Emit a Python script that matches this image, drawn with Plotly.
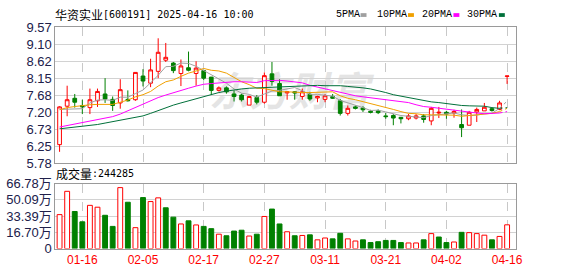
import plotly.graph_objects as go

# ---------------- data ----------------
dates = ["01-13", "01-14", "01-15", "01-16", "01-17", "01-20", "01-21", "01-22", "01-23", "01-24",
         "01-27", "02-05", "02-06", "02-07", "02-10", "02-11", "02-12", "02-13", "02-14", "02-17",
         "02-18", "02-19", "02-20", "02-21", "02-24", "02-25", "02-26", "02-27", "02-28", "03-03",
         "03-04", "03-05", "03-06", "03-07", "03-10", "03-11", "03-12", "03-13", "03-14", "03-17",
         "03-18", "03-19", "03-20", "03-21", "03-24", "03-25", "03-26", "03-27", "03-28", "03-31",
         "04-01", "04-02", "04-07", "04-08", "04-09", "04-10", "04-11", "04-14", "04-15", "04-16"]

open_ = [6.30, 7.37, 7.59, 7.39, 7.33, 7.52, 7.71, 7.56, 7.46, 7.56,
         7.55, 8.21, 8.01, 8.34, 8.65, 8.57, 8.28, 8.44, 8.28, 8.36,
         8.18, 7.81, 7.88, 7.71, 7.68, 7.40, 7.61, 7.48, 8.27, 8.00,
         7.74, 7.77, 7.64, 7.70, 7.60, 7.56, 7.64, 7.52, 7.17, 7.35,
         7.32, 7.23, 7.24, 7.10, 7.11, 7.06, 7.02, 7.04, 7.10, 6.96,
         7.18, 7.20, 7.18, 6.86, 6.84, 7.21, 7.24, 7.30, 7.28, 8.20]
high = [7.37, 7.94, 7.71, 7.55, 7.86, 7.86, 8.15, 7.64, 8.12, 7.81,
        8.31, 8.40, 8.69, 9.26, 9.13, 8.60, 8.67, 8.89, 8.62, 8.38,
        8.18, 7.92, 7.92, 7.81, 7.72, 7.66, 7.68, 8.31, 8.60, 8.12,
        7.79, 7.79, 7.86, 7.77, 7.66, 7.71, 7.71, 7.57, 7.39, 7.39,
        7.37, 7.27, 7.28, 7.18, 7.15, 7.07, 7.15, 7.15, 7.15, 7.35,
        7.35, 7.24, 7.27, 7.28, 7.24, 7.33, 7.46, 7.33, 7.52, 8.21]
low = [6.10, 7.09, 7.33, 7.15, 7.15, 7.35, 7.46, 7.24, 7.30, 7.50,
       7.52, 7.92, 7.90, 8.15, 8.60, 8.29, 7.93, 8.34, 7.94, 8.09,
       7.68, 7.78, 7.72, 7.50, 7.50, 7.40, 7.42, 7.44, 7.94, 7.66,
       7.55, 7.55, 7.55, 7.52, 7.48, 7.48, 7.57, 7.11, 7.11, 7.28,
       7.21, 7.17, 7.15, 7.02, 6.84, 6.89, 6.98, 7.00, 6.91, 6.84,
       7.04, 7.02, 7.05, 6.51, 6.84, 6.93, 7.24, 7.22, 7.26, 7.99]
close = [7.35, 7.55, 7.48, 7.35, 7.55, 7.78, 7.57, 7.39, 7.83, 7.52,
         8.31, 8.07, 8.38, 8.87, 8.73, 8.36, 8.49, 8.37, 8.43, 8.15,
         7.81, 7.88, 7.77, 7.64, 7.55, 7.64, 7.48, 8.22, 8.06, 7.66,
         7.77, 7.74, 7.77, 7.57, 7.64, 7.66, 7.59, 7.17, 7.31, 7.31,
         7.27, 7.20, 7.19, 7.08, 7.04, 7.02, 7.10, 7.10, 7.00, 7.31,
         7.20, 7.15, 7.22, 6.77, 7.20, 7.28, 7.34, 7.25, 7.46, 8.21]

ma5 = [7.28, 7.29, 7.30, 7.30, 7.46, 7.54, 7.55, 7.53, 7.62, 7.62,
       7.72, 7.82, 8.02, 8.23, 8.47, 8.48, 8.57, 8.56, 8.48, 8.36,
       8.25, 8.13, 8.01, 7.85, 7.73, 7.70, 7.62, 7.71, 7.79, 7.81,
       7.84, 7.89, 7.80, 7.70, 7.70, 7.68, 7.65, 7.53, 7.47, 7.41,
       7.33, 7.25, 7.26, 7.21, 7.16, 7.11, 7.09, 7.07, 7.05, 7.11,
       7.14, 7.15, 7.18, 7.13, 7.11, 7.12, 7.16, 7.17, 7.31, 7.51]
ma10 = [7.27, 7.33, 7.36, 7.39, 7.41, 7.42, 7.42, 7.42, 7.48, 7.54,
        7.63, 7.69, 7.78, 7.93, 8.05, 8.10, 8.20, 8.29, 8.35, 8.42,
        8.37, 8.35, 8.29, 8.16, 8.05, 7.97, 7.87, 7.86, 7.82, 7.77,
        7.77, 7.75, 7.75, 7.75, 7.76, 7.76, 7.77, 7.66, 7.59, 7.55,
        7.50, 7.45, 7.39, 7.34, 7.28, 7.22, 7.17, 7.16, 7.13, 7.13,
        7.13, 7.12, 7.12, 7.09, 7.11, 7.13, 7.16, 7.17, 7.22, 7.31]
ma20 = [6.79, 6.83, 6.87, 6.91, 6.95, 6.99, 7.03, 7.08, 7.15, 7.24,
        7.34, 7.44, 7.53, 7.61, 7.68, 7.75, 7.81, 7.87, 7.93, 7.98,
        8.00, 8.02, 8.03, 8.05, 8.05, 8.04, 8.03, 8.08, 8.09, 8.09,
        8.07, 8.05, 8.02, 7.95, 7.90, 7.86, 7.82, 7.76, 7.70, 7.66,
        7.63, 7.60, 7.57, 7.54, 7.52, 7.49, 7.47, 7.41, 7.36, 7.34,
        7.31, 7.28, 7.26, 7.22, 7.20, 7.18, 7.16, 7.17, 7.18, 7.22]
ma30 = [6.74, 6.76, 6.78, 6.80, 6.83, 6.86, 6.90, 6.94, 6.98, 7.02,
        7.06, 7.10, 7.17, 7.25, 7.33, 7.40, 7.46, 7.52, 7.58, 7.64,
        7.70, 7.75, 7.79, 7.83, 7.85, 7.87, 7.88, 7.90, 7.91, 7.91,
        7.92, 7.93, 7.94, 7.95, 7.95, 7.94, 7.95, 7.94, 7.92, 7.91,
        7.88, 7.85, 7.81, 7.75, 7.69, 7.65, 7.60, 7.56, 7.51, 7.49,
        7.47, 7.44, 7.42, 7.39, 7.38, 7.37, 7.37, 7.33, 7.31, 7.33]

# volume in 手 (lots)
volume = [349000, 588000, 381000, 275000, 444000, 425000, 342000, 228000, 626000, 476000,
          215000, 524000, 483000, 521000, 419000, 323000, 253000, 285000, 243000, 228000,
          205000, 148000, 132000, 180000, 189000, 129000, 148000, 330000, 406000, 253000,
          173000, 132000, 135000, 141000, 90000, 109000, 100000, 157000, 100000, 78000,
          90000, 62000, 71000, 84000, 84000, 62000, 58000, 58000, 90000, 154000,
          119000, 62000, 68000, 167000, 164000, 154000, 138000, 90000, 125000, 244285]

price_ticks = [5.78, 6.25, 6.73, 7.20, 7.68, 8.15, 8.62, 9.10, 9.57]
vol_ticks = [0, 16.70, 33.39, 50.09, 66.78]
vol_tick_text = ["0", "16.70万", "33.39万", "50.09万", "66.78万"]
tick_dates = ["01-16", "02-05", "02-17", "02-27", "03-11", "03-21", "04-02", "04-16"]

stock_name = "华资实业"
stock_info = "[600191] 2025-04-16 10:00"
ma_names = ["5PMA", "10PMA", "20PMA", "30PMA"]

# ---------------- style ----------------
W, H = 578, 276
RED = "#ff0000"
GREEN = "#008000"
MA_COLORS = ["#a0a0a0", "#f0a000", "#ff00ff", "#00703a"]
FRAME = "#9a9a9a"
GRID = "#d2d2d2"
VGRID = "#c8c8c8"
NAVY = "#20204a"


def fx(p):
    return p / W


def fy(p):
    return 1 - p / H


idx = list(range(len(dates)))
tick_idx = [dates.index(d) for d in tick_dates]
n = len(idx)

fig = go.Figure()

fig.add_trace(go.Candlestick(
    x=idx, open=open_, high=high, low=low, close=close,
    xaxis="x", yaxis="y",
    increasing=dict(line=dict(color=RED, width=1), fillcolor="#ffffff"),
    decreasing=dict(line=dict(color=GREEN, width=1), fillcolor=GREEN),
    whiskerwidth=0, showlegend=False, hoverinfo="skip",
))

for ma, col in zip([ma5, ma10, ma20, ma30], MA_COLORS):
    fig.add_trace(go.Scatter(x=idx[:n - 1], y=ma[:n - 1], mode="lines",
                             line=dict(color=col, width=1), xaxis="x", yaxis="y",
                             showlegend=False, hoverinfo="skip"))
    fig.add_trace(go.Scatter(x=idx[n - 2:], y=ma[n - 2:], mode="lines",
                             line=dict(color=col, width=1, dash="dot"), xaxis="x", yaxis="y",
                             showlegend=False, hoverinfo="skip"))

# volume colour: up (close >= previous close) red hollow, otherwise green filled
up = [True] + [close[i] >= close[i - 1] for i in range(1, n)]
fig.add_trace(go.Bar(
    x=idx, y=[v / 10000 for v in volume], xaxis="x2", yaxis="y2", width=0.64,
    marker=dict(color=["#ffffff" if u else GREEN for u in up],
                line=dict(color=[RED if u else GREEN for u in up], width=1)),
    showlegend=False, hoverinfo="skip",
))

xdom = [fx(56), fx(522)]
xrange_ = [-0.56, 60.13]
common_x = dict(domain=xdom, range=xrange_, tickvals=tick_idx, showgrid=True,
                gridcolor=VGRID, griddash="dash", gridwidth=1, showline=True, mirror=True,
                linecolor=FRAME, linewidth=1, zeroline=False, ticks="", fixedrange=True)

fig.update_layout(
    width=W, height=H, margin=dict(l=0, r=0, t=0, b=0),
    paper_bgcolor="#ffffff", plot_bgcolor="#ffffff",
    showlegend=False, hovermode=False,
    xaxis=dict(**common_x, anchor="y", showticklabels=False,
               rangeslider=dict(visible=False)),
    xaxis2=dict(**common_x, anchor="y2", ticktext=tick_dates,
                tickfont=dict(family="Liberation Sans", size=12, color=RED)),
    yaxis=dict(domain=[fy(165.3), fy(21.3)], range=[price_ticks[0], price_ticks[-1]],
               tickvals=price_ticks, ticktext=[f"{v:.2f}" for v in price_ticks],
               showgrid=True, gridcolor=GRID, gridwidth=1, showline=True, mirror=True,
               linecolor=FRAME, linewidth=1, zeroline=False, ticks="", anchor="x",
               tickfont=dict(family="Liberation Sans", size=13, color=NAVY), fixedrange=True),
    yaxis2=dict(domain=[fy(255.5), fy(186.7)], range=[vol_ticks[0], vol_ticks[-1]],
                tickvals=vol_ticks, ticktext=vol_tick_text,
                showgrid=True, gridcolor=GRID, gridwidth=1, showline=True, mirror=True,
                linecolor=FRAME, linewidth=1, zeroline=False, ticks="", anchor="x2",
                tickfont=dict(family="Liberation Sans, Noto Sans CJK SC", size=13, color=NAVY),
                fixedrange=True),
)

annotations = []
# title
annotations.append(dict(xref="paper", yref="paper", x=fx(55), y=fy(7.5), xanchor="left",
                        yanchor="middle", text=stock_name, showarrow=False,
                        font=dict(family="Noto Sans CJK SC", size=12, color="#000000"),
                        borderpad=0))
annotations.append(dict(xref="paper", yref="paper", x=fx(103.5), y=fy(7.5), xanchor="left",
                        yanchor="middle", text=stock_info, showarrow=False,
                        font=dict(family="DejaVu Sans Mono", size=10, color="#000000"),
                        borderpad=0))
# volume label
annotations.append(dict(xref="paper", yref="paper", x=fx(56), y=fy(176.5), xanchor="left",
                        yanchor="middle", text="成交量", showarrow=False,
                        font=dict(family="Noto Sans CJK SC", size=12, color="#000000"),
                        borderpad=0))
annotations.append(dict(xref="paper", yref="paper", x=fx(92.5), y=fy(176.5), xanchor="left",
                        yanchor="middle", text=":" + str(volume[-1]), showarrow=False,
                        font=dict(family="DejaVu Sans Mono", size=10, color="#000000"),
                        borderpad=0))

shapes = []
legend_x = [339, 381, 426, 472]
square_x = [365, 413, 459, 505]
for name, lx, sx, col in zip(ma_names, legend_x, square_x, MA_COLORS):
    annotations.append(dict(xref="paper", yref="paper", x=fx(lx), y=fy(8), xanchor="left",
                            yanchor="middle", text=name, showarrow=False,
                            font=dict(family="Liberation Mono", size=10, color="#000000"),
                            borderpad=0))
    shapes.append(dict(type="rect", xref="paper", yref="paper", x0=fx(sx), x1=fx(sx + 6),
                       y0=fy(10.5), y1=fy(6.5), fillcolor=col, line=dict(width=0)))

# watermark
shapes.append(dict(type="rect", xref="paper", yref="paper", x0=fx(205), x1=fx(380),
                   y0=fy(112), y1=fy(74), fillcolor="rgba(0,0,0,0)", line=dict(width=0),
                   layer="between",
                   label=dict(text="东方财富", textposition="middle center",
                              font=dict(family="Noto Sans CJK SC", size=40,
                                        color="#e4e4e4", weight="bold", style="italic"))))

fig.update_layout(annotations=annotations, shapes=shapes)
fig.write_html("out.html")
